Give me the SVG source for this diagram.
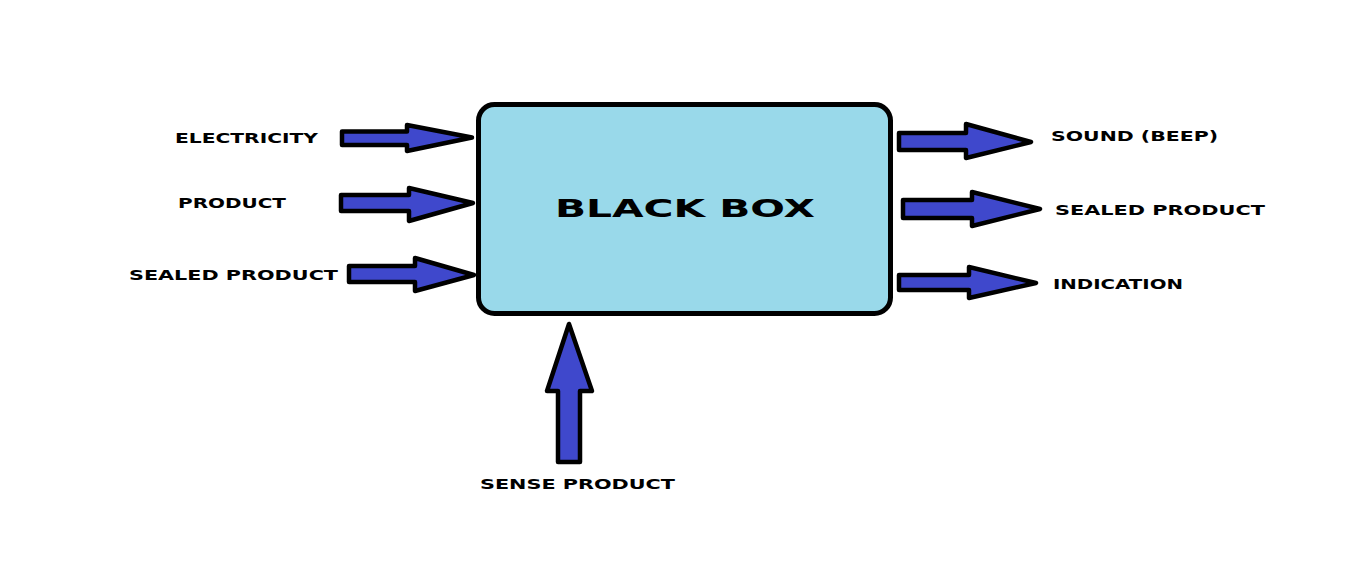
<svg xmlns="http://www.w3.org/2000/svg" width="1354" height="580" viewBox="0 0 1354 580">
<style>
.arrow{fill:#3f48cc;stroke:#000;stroke-width:4.5;stroke-linejoin:round}
.lbl{font-family:"DejaVu Sans","Liberation Sans",sans-serif;font-weight:bold;font-size:13.5px;fill:#000}
.title{font-family:"DejaVu Sans","Liberation Sans",sans-serif;font-weight:bold;font-size:25px;fill:#000}
</style>
<rect width="1354" height="580" fill="#fff"/>
<g id="blackbox">
<rect x="478.5" y="104.5" width="412" height="209" rx="16" ry="16" fill="#99d9ea" stroke="#000" stroke-width="5"/>
<text class="title" x="555" y="217" textLength="260" lengthAdjust="spacingAndGlyphs">BLACK BOX</text>
</g>
<g id="connectors">
<polygon class="arrow" points="342,131.5 407,131.5 407,125 472,137.5 407,151 407,145 342,145"/>
<polygon class="arrow" points="341,195 409,195 409,188 473,203 409,221 409,211 341,211"/>
<polygon class="arrow" points="349,266 415,266 415,258 474,275 415,291 415,282 349,282"/>
<polygon class="arrow" points="899,133 966,133 966,124 1031,142 966,158 966,150 899,150"/>
<polygon class="arrow" points="903,200 972,200 972,192 1040,209 972,226 972,218 903,218"/>
<polygon class="arrow" points="899,275 969,275 969,267 1036,283 969,298 969,290 899,290"/>
<polygon class="arrow" points="558,462 558,391 547,391 569,324 592,391 580,391 580,462"/>
</g>
<g id="in-electricity"><text class="lbl" x="175" y="143" textLength="143" lengthAdjust="spacingAndGlyphs">ELECTRICITY</text></g>
<g id="in-product"><text class="lbl" x="178" y="208" textLength="108" lengthAdjust="spacingAndGlyphs">PRODUCT</text></g>
<g id="in-sealed"><text class="lbl" x="129" y="280" textLength="209" lengthAdjust="spacingAndGlyphs">SEALED PRODUCT</text></g>
<g id="out-sound"><text class="lbl" x="1051" y="141" textLength="167" lengthAdjust="spacingAndGlyphs">SOUND (BEEP)</text></g>
<g id="out-sealed"><text class="lbl" x="1055" y="215" textLength="210" lengthAdjust="spacingAndGlyphs">SEALED PRODUCT</text></g>
<g id="out-indication"><text class="lbl" x="1053" y="289" textLength="130" lengthAdjust="spacingAndGlyphs">INDICATION</text></g>
<g id="in-sense"><text class="lbl" x="480" y="489" textLength="195" lengthAdjust="spacingAndGlyphs">SENSE PRODUCT</text></g>
</svg>
